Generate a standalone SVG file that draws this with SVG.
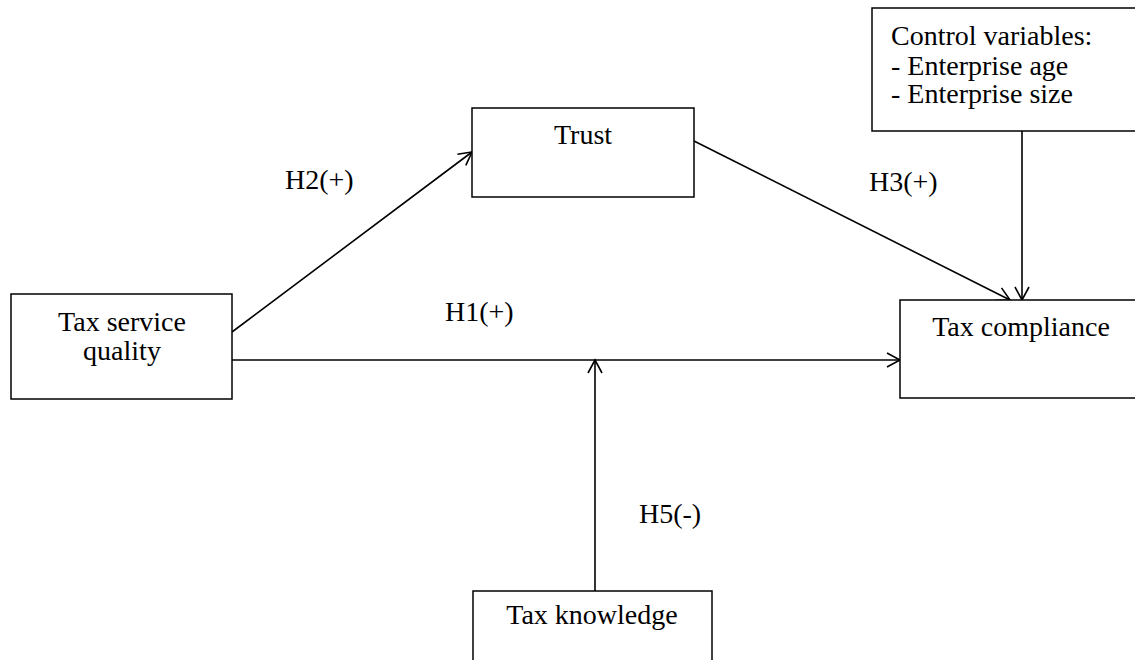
<svg xmlns="http://www.w3.org/2000/svg" width="1135" height="660" viewBox="0 0 1135 660">
  <style>
    .box { fill: #ffffff; stroke: #000000; stroke-width: 1.5; }
    .t { font-family: 'Liberation Serif', 'Times New Roman', 'DejaVu Serif', serif; font-size: 28px; fill: #000000; }
    .c { text-anchor: middle; }
    .edge { stroke: #000000; stroke-width: 1.6; fill: none; marker-end: url(#arr); }
  </style>
  <defs>
    <marker id="arr" markerUnits="userSpaceOnUse" markerWidth="18" markerHeight="18" refX="14" refY="8" orient="auto">
      <path d="M1,1 L14,8 L1,15" fill="none" stroke="#000000" stroke-width="1.6"/>
    </marker>
  </defs>
  <rect width="1135" height="660" fill="#ffffff"/>

  <g id="connectors">
    <line class="edge" x1="232" y1="332" x2="472" y2="152"/>
    <line class="edge" x1="694" y1="141" x2="1010" y2="300"/>
    <line class="edge" x1="1022" y1="131" x2="1022" y2="300"/>
    <line class="edge" x1="232" y1="360" x2="900" y2="360"/>
    <line class="edge" x1="595" y1="591" x2="595" y2="360"/>
  </g>

  <g id="node-tsq">
    <rect class="box" x="11" y="294" width="221" height="105"/>
    <text class="t c" x="122" y="331">Tax service</text>
    <text class="t c" x="122" y="360">quality</text>
  </g>
  <g id="node-trust">
    <rect class="box" x="472" y="108" width="222" height="89"/>
    <text class="t c" x="583" y="144">Trust</text>
  </g>
  <g id="node-control">
    <rect class="box" x="872" y="8" width="270" height="123"/>
    <text class="t" x="891" y="45">Control variables:</text>
    <text class="t" x="891" y="75">- Enterprise age</text>
    <text class="t" x="891" y="103">- Enterprise size</text>
  </g>
  <g id="node-compliance">
    <rect class="box" x="900" y="300" width="242" height="98"/>
    <text class="t c" x="1021" y="336">Tax compliance</text>
  </g>
  <g id="node-knowledge">
    <rect class="box" x="473" y="591" width="239" height="80"/>
    <text class="t c" x="592" y="624">Tax knowledge</text>
  </g>

  <g id="labels">
    <text class="t" x="285" y="189">H2(+)</text>
    <text class="t" x="869" y="191">H3(+)</text>
    <text class="t" x="445" y="321">H1(+)</text>
    <text class="t" x="639" y="523">H5(-)</text>
  </g>
</svg>
